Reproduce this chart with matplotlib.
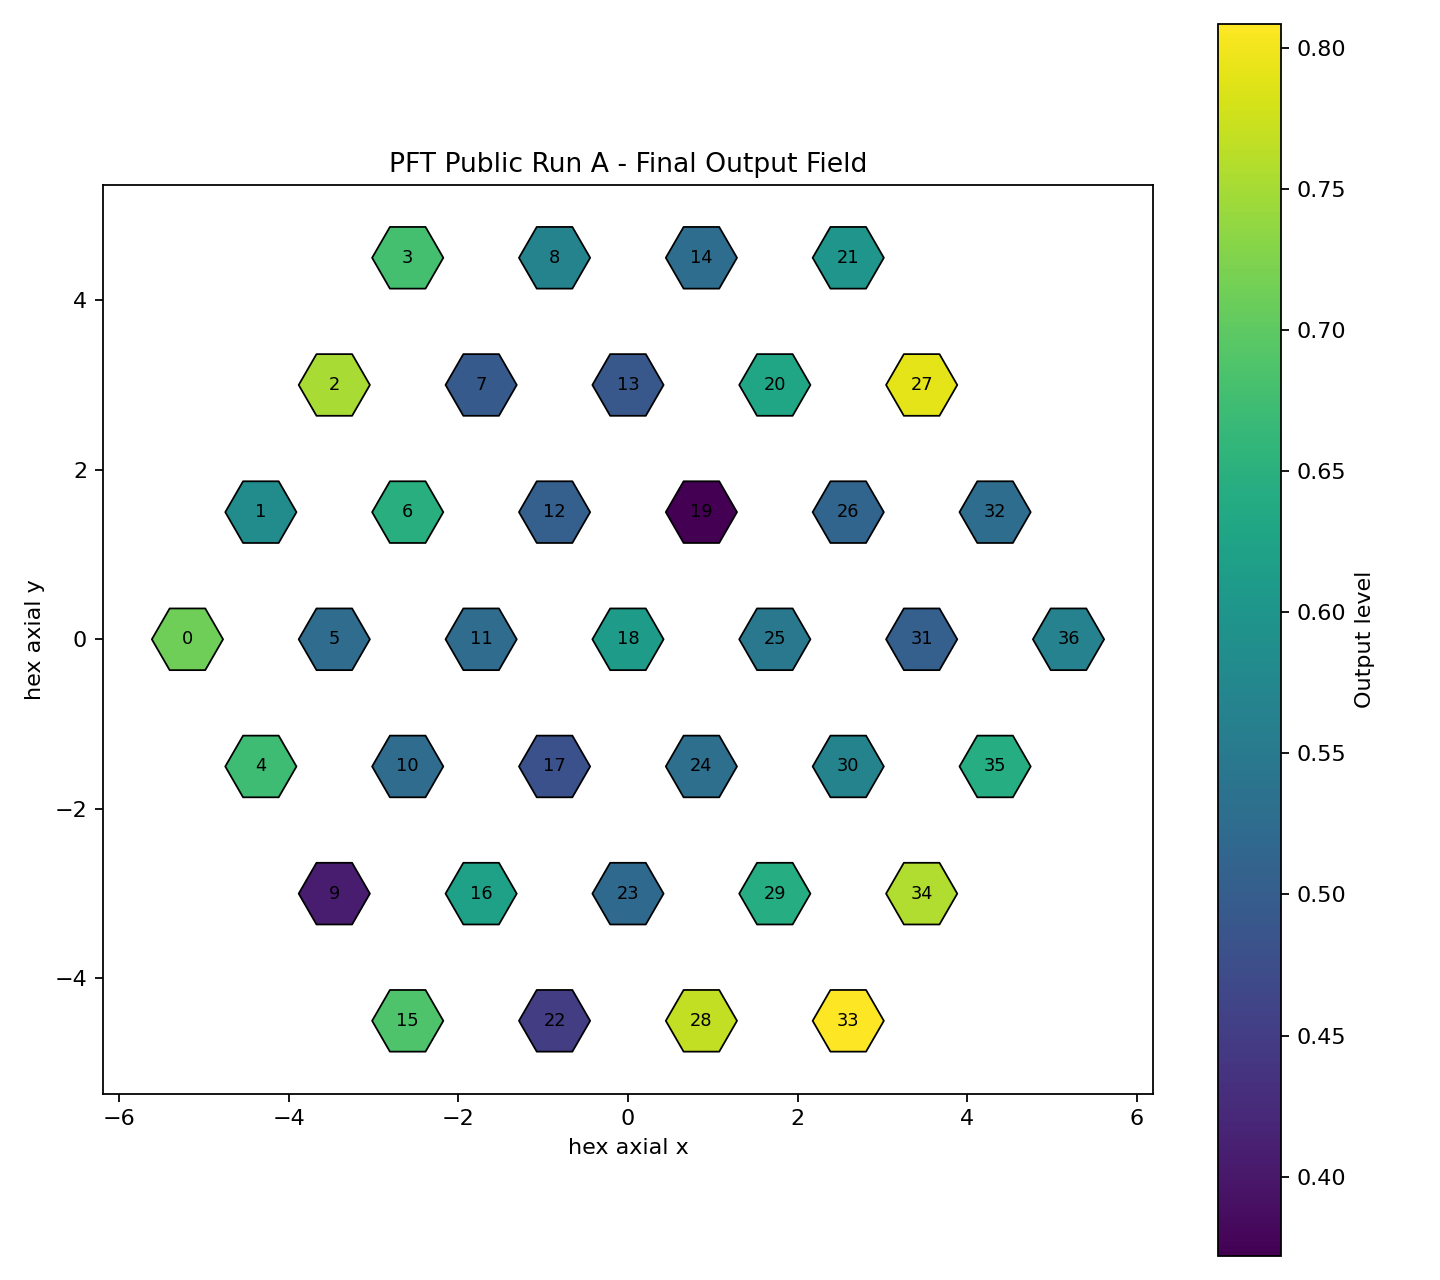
import numpy as np
import matplotlib
matplotlib.use("Agg")
import matplotlib.pyplot as plt
from matplotlib.patches import RegularPolygon
from matplotlib.collections import PatchCollection

# axial hex coordinates (radius-3 grid), in cell index order
hex_q = [-3, -3, -3, -3,
         -2, -2, -2, -2, -2,
         -1, -1, -1, -1, -1, -1,
         0, 0, 0, 0, 0, 0, 0,
         1, 1, 1, 1, 1, 1,
         2, 2, 2, 2, 2,
         3, 3, 3, 3]
hex_r = [0, 1, 2, 3,
         -1, 0, 1, 2, 3,
         -2, -1, 0, 1, 2, 3,
         -3, -2, -1, 0, 1, 2, 3,
         -3, -2, -1, 0, 1, 2,
         -3, -2, -1, 0, 1,
         -3, -2, -1, 0]

# output level per cell
output_level = [0.712, 0.582, 0.752, 0.678,
                0.673, 0.525, 0.647, 0.494, 0.568,
                0.407, 0.525, 0.525, 0.503, 0.490, 0.527,
                0.686, 0.621, 0.481, 0.612, 0.372, 0.630, 0.599,
                0.450, 0.520, 0.529, 0.547, 0.512, 0.791,
                0.769, 0.643, 0.568, 0.503, 0.527,
                0.8085, 0.756, 0.643, 0.564]

q = np.array(hex_q, dtype=float)
r = np.array(hex_r, dtype=float)
x = np.sqrt(3) * (q + r / 2.0)
y = 1.5 * r

fig = plt.figure(figsize=(9, 8))
ax = fig.add_axes([0.0713, 0.1451, 0.7296, 0.7109])
cax = fig.add_axes([0.8460, 0.0190, 0.0433, 0.9623])

patches = [RegularPolygon((xi, yi), numVertices=6, radius=0.42,
                          orientation=np.pi / 6) for xi, yi in zip(x, y)]
pc = PatchCollection(patches, cmap="viridis", edgecolor="black", linewidth=0.8)
pc.set_array(np.array(output_level))
ax.add_collection(pc)

for i, (xi, yi) in enumerate(zip(x, y)):
    ax.text(xi, yi, str(i), ha="center", va="center", fontsize=8)

ax.set_xlim(x.min() - 1, x.max() + 1)
ax.set_ylim(-5.358, 5.358)
ax.set_aspect("equal")
ax.set_title("PFT Public Run A - Final Output Field")
ax.set_xlabel("hex axial x")
ax.set_ylabel("hex axial y")

cbar = fig.colorbar(pc, cax=cax)
cbar.set_label("Output level")

plt.savefig("out.png", dpi=160)
